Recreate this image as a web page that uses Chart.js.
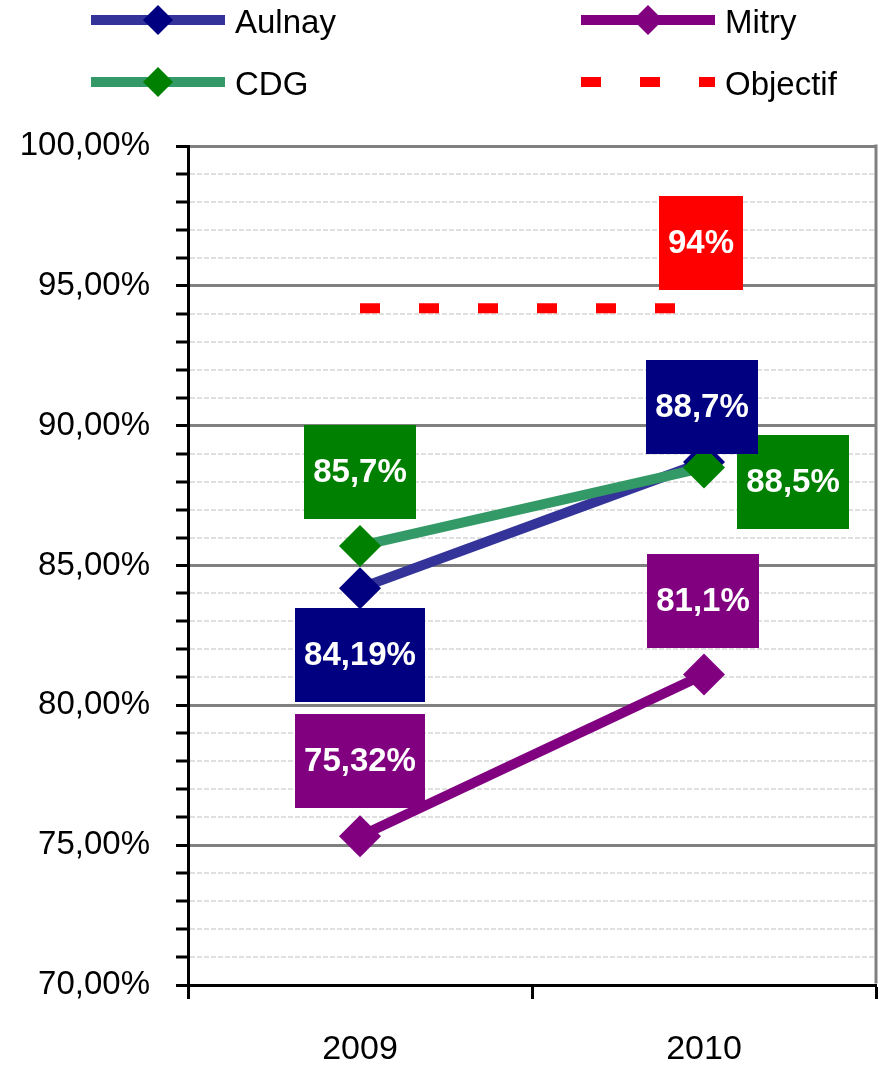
<!DOCTYPE html>
<html>
<head>
<meta charset="utf-8">
<title>Taux 2009 - 2010</title>
<script src="https://cdn.jsdelivr.net/npm/chart.js@4.4.1/dist/chart.umd.min.js"></script>
<style>
  html, body { margin: 0; padding: 0; background: #fff; }
  #wrap { width: 886px; height: 1068px; }
</style>
</head>
<body>
<div id="wrap"><canvas id="chart" width="886" height="1068"></canvas></div>
<script>
// data
const years = ['2009', '2010'];
const aulnay = [84.19, 88.7];
const cdg = [85.7, 88.5];
const mitry = [75.32, 81.1];
const objectif = [94.2, 94.2];
const objectifLabel = '94%';
const yMin = 70;
const yMax = 100;

const FONT = '"Liberation Sans", Arial, sans-serif';
Chart.defaults.font.family = FONT;
Chart.defaults.color = '#000';

function pct(v) {
    return String(v).replace('.', ',') + '%';
}

// coloured boxes with the values, placed relative to each point
const boxLabels = {
    id: 'boxLabels',
    afterDatasetsDraw(chart, args, opts) {
        const ctx = chart.ctx;
        ctx.save();
        ctx.font = 'bold 33px ' + FONT;
        ctx.textAlign = 'center';
        ctx.textBaseline = 'middle';
        chart.data.datasets.forEach((ds, di) => {
            const place = opts.places[ds.label];
            if (!place) return;
            const meta = chart.getDatasetMeta(di);
            meta.data.forEach((pt, i) => {
                const off = place[i];
                if (!off) return;
                const text = ds.label === 'Objectif' ? objectifLabel : pct(ds.data[i]);
                const w = ctx.measureText(text).width + 2 * opts.padX;
                const h = opts.height;
                const cx = pt.x + off[0];
                const cy = pt.y + off[1];
                ctx.fillStyle = ds.labelColor;
                ctx.fillRect(Math.round(cx - w / 2), Math.round(cy - h / 2), Math.round(w), h);
                ctx.fillStyle = '#fff';
                ctx.fillText(text, cx, cy + 1);
            });
        });
        ctx.restore();
    }
};

// two-column legend at the top + grey right border of the plot
const topLegend = {
    id: 'topLegend',
    afterDraw(chart, args, opts) {
        const ctx = chart.ctx;
        const area = chart.chartArea;
        ctx.save();
        ctx.strokeStyle = '#808080';
        ctx.lineWidth = 3;
        ctx.beginPath();
        ctx.moveTo(area.right, area.top - 1.5);
        ctx.lineTo(area.right, area.bottom - 1.5);
        ctx.stroke();

        opts.items.forEach(item => {
            const ds = chart.data.datasets.find(d => d.label === item.label);
            const x = item.at[0];
            const y = item.at[1];
            ctx.strokeStyle = ds.borderColor;
            ctx.lineWidth = ds.borderWidth;
            ctx.setLineDash(ds.borderDash || []);
            ctx.beginPath();
            ctx.moveTo(x, y);
            ctx.lineTo(x + opts.lineLength, y);
            ctx.stroke();
            ctx.setLineDash([]);
            if (ds.pointRadius > 0) {
                const mx = x + opts.lineLength / 2;
                const r = opts.markerRadius;
                ctx.fillStyle = ds.pointBackgroundColor;
                ctx.beginPath();
                ctx.moveTo(mx - r, y);
                ctx.lineTo(mx, y - r);
                ctx.lineTo(mx + r, y);
                ctx.lineTo(mx, y + r);
                ctx.closePath();
                ctx.fill();
            }
            ctx.fillStyle = '#000';
            ctx.font = '33px ' + FONT;
            ctx.textAlign = 'left';
            ctx.textBaseline = 'middle';
            ctx.fillText(ds.label, x + opts.lineLength + 10, y + 4);
        });
        ctx.restore();
    }
};

const common = {
    borderWidth: 10,
    pointStyle: 'rectRot',
    pointRadius: 21,
    pointHoverRadius: 21,
    pointBorderWidth: 0,
    tension: 0,
    fill: false
};

const ctx = document.getElementById('chart').getContext('2d');
new Chart(ctx, {
    type: 'line',
    data: {
        labels: years,
        datasets: [
            Object.assign({}, common, {
                label: 'CDG', data: cdg, order: 0,
                borderColor: '#339966', pointBackgroundColor: '#008000', labelColor: '#008000'
            }),
            Object.assign({}, common, {
                label: 'Aulnay', data: aulnay, order: 1,
                borderColor: '#333399', pointBackgroundColor: '#000080', labelColor: '#000080'
            }),
            Object.assign({}, common, {
                label: 'Mitry', data: mitry, order: 2,
                borderColor: '#800080', pointBackgroundColor: '#800080', labelColor: '#800080'
            }),
            Object.assign({}, common, {
                label: 'Objectif', data: objectif, order: 3,
                borderColor: '#ff0000', borderDash: [20, 39], pointRadius: 0, pointHoverRadius: 0,
                labelColor: '#ff0000'
            })
        ]
    },
    options: {
        responsive: false,
        animation: false,
        events: [],
        layout: {
            autoPadding: false,
            padding: { top: 146, right: 10, left: 0, bottom: 0 }
        },
        plugins: {
            legend: { display: false },
            tooltip: { enabled: false },
            boxLabels: {
                padX: 9,
                height: 94,
                places: {
                    'CDG': [[0, -74], [89, 14]],
                    'Aulnay': [[0, 67], [-2, -55]],
                    'Mitry': [[0, -75], [-1, -74]],
                    'Objectif': [null, [-3, -65]]
                }
            },
            topLegend: {
                lineLength: 134,
                markerRadius: 15,
                items: [
                    { label: 'Aulnay', at: [91, 20] },
                    { label: 'Mitry', at: [581, 20] },
                    { label: 'CDG', at: [91, 82] },
                    { label: 'Objectif', at: [581, 82] }
                ]
            }
        },
        scales: {
            x: {
                offset: true,
                afterFit(scale) { scale.height = 83; },
                grid: {
                    offset: true,
                    drawOnChartArea: false,
                    tickLength: 14,
                    tickWidth: 3,
                    tickColor: '#000'
                },
                border: { color: '#000', width: 3 },
                ticks: { color: '#000', font: { size: 34 }, padding: 30 }
            },
            y: {
                min: yMin,
                max: yMax,
                afterFit(scale) { scale.width = 188; },
                ticks: {
                    stepSize: 1,
                    autoSkip: false,
                    color: '#000',
                    font: { size: 33 },
                    padding: 26,
                    callback: v => (v % 5 === 0 ? v.toFixed(2).replace('.', ',') + '%' : '')
                },
                grid: {
                    color: c => (c.tick && c.tick.value % 5 === 0 ? '#808080' : '#e0e0e0'),
                    lineWidth: c => (c.tick && c.tick.value % 5 === 0 ? 3 : 2),
                    tickColor: '#000',
                    tickWidth: 3,
                    tickLength: 12
                },
                border: {
                    color: '#000',
                    width: 3,
                    dash: c => (c.tick && c.tick.value % 5 !== 0 ? [5, 2] : [])
                }
            }
        }
    },
    plugins: [boxLabels, topLegend]
});
</script>
</body>
</html>
